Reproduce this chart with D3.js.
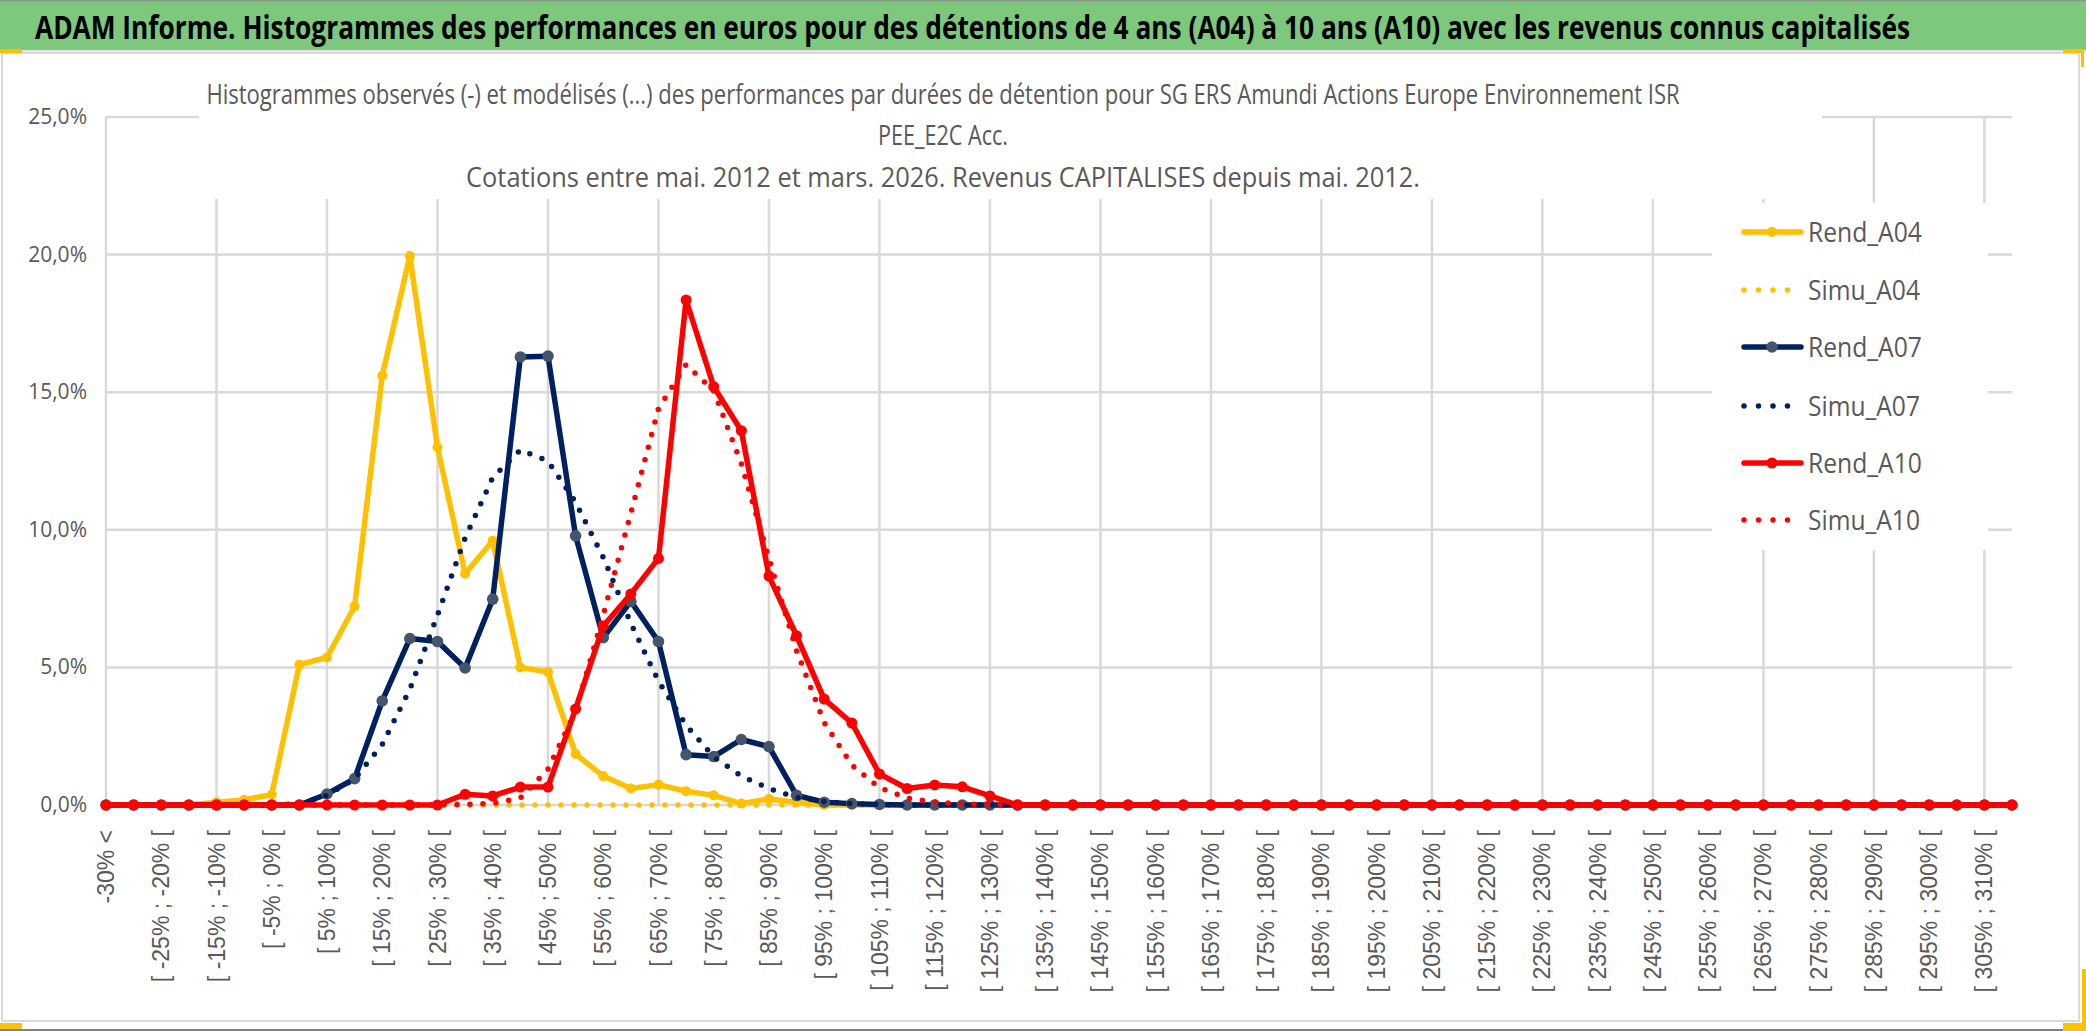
<!DOCTYPE html>
<html>
<head>
<meta charset="utf-8">
<script src="https://cdn.jsdelivr.net/npm/d3@7"></script>
<style>
  body { margin: 0; background: #fff; }
  svg { display: block; }
</style>
</head>
<body>
<div id="chart"></div>
<script>
// categories (classes de performance), one label every 2 shown
var categories = [
  "-30% <", "[ -30% ; -25% [", "[ -25% ; -20% [", "[ -20% ; -15% [", "[ -15% ; -10% [", "[ -10% ; -5% [", "[ -5% ; 0% [", "[ 0% ; 5% [", "[ 5% ; 10% [", "[ 10% ; 15% [",
  "[ 15% ; 20% [", "[ 20% ; 25% [", "[ 25% ; 30% [", "[ 30% ; 35% [", "[ 35% ; 40% [", "[ 40% ; 45% [", "[ 45% ; 50% [", "[ 50% ; 55% [", "[ 55% ; 60% [", "[ 60% ; 65% [",
  "[ 65% ; 70% [", "[ 70% ; 75% [", "[ 75% ; 80% [", "[ 80% ; 85% [", "[ 85% ; 90% [", "[ 90% ; 95% [", "[ 95% ; 100% [", "[ 100% ; 105% [", "[ 105% ; 110% [", "[ 110% ; 115% [",
  "[ 115% ; 120% [", "[ 120% ; 125% [", "[ 125% ; 130% [", "[ 130% ; 135% [", "[ 135% ; 140% [", "[ 140% ; 145% [", "[ 145% ; 150% [", "[ 150% ; 155% [", "[ 155% ; 160% [", "[ 160% ; 165% [",
  "[ 165% ; 170% [", "[ 170% ; 175% [", "[ 175% ; 180% [", "[ 180% ; 185% [", "[ 185% ; 190% [", "[ 190% ; 195% [", "[ 195% ; 200% [", "[ 200% ; 205% [", "[ 205% ; 210% [", "[ 210% ; 215% [",
  "[ 215% ; 220% [", "[ 220% ; 225% [", "[ 225% ; 230% [", "[ 230% ; 235% [", "[ 235% ; 240% [", "[ 240% ; 245% [", "[ 245% ; 250% [", "[ 250% ; 255% [", "[ 255% ; 260% [", "[ 260% ; 265% [",
  "[ 265% ; 270% [", "[ 270% ; 275% [", "[ 275% ; 280% [", "[ 280% ; 285% [", "[ 285% ; 290% [", "[ 290% ; 295% [", "[ 295% ; 300% [", "[ 300% ; 305% [", "[ 305% ; 310% [", "[ 310% ; 315% ["
];

// frequencies in %
var rendA04 = [
  0, 0, 0, 0, 0.1, 0.18, 0.38, 5.1, 5.36, 7.22,
  15.6, 19.95, 13.0, 8.4, 9.6, 5.0, 4.83, 1.85, 1.05, 0.6,
  0.74, 0.5, 0.35, 0.05, 0.22, 0.1, 0, 0, 0, 0,
  0, 0, 0, 0, 0, 0, 0, 0, 0, 0,
  0, 0, 0, 0, 0, 0, 0, 0, 0, 0,
  0, 0, 0, 0, 0, 0, 0, 0, 0, 0,
  0, 0, 0, 0, 0, 0, 0, 0, 0, 0
];
var simuA04 = [
  0, 0, 0, 0, 0, 0, 0, 0, 0, 0,
  0, 0, 0, 0, 0, 0, 0, 0, 0, 0,
  0, 0, 0, 0, 0, 0, 0, 0, 0, 0,
  0, 0, 0, 0, 0, 0, 0, 0, 0, 0,
  0, 0, 0, 0, 0, 0, 0, 0, 0, 0,
  0, 0, 0, 0, 0, 0, 0, 0, 0, 0,
  0, 0, 0, 0, 0, 0, 0, 0, 0, 0
];
var rendA07 = [
  0, 0, 0, 0, 0, 0, 0, 0, 0.4, 0.96,
  3.78, 6.05, 5.94, 4.98, 7.48, 16.28, 16.31, 9.78, 6.08, 7.4,
  5.94, 1.83, 1.76, 2.38, 2.12, 0.35, 0.1, 0.05, 0.02, 0,
  0, 0, 0, 0, 0, 0, 0, 0, 0, 0,
  0, 0, 0, 0, 0, 0, 0, 0, 0, 0,
  0, 0, 0, 0, 0, 0, 0, 0, 0, 0,
  0, 0, 0, 0, 0, 0, 0, 0, 0, 0
];
var simuA07 = [
  0, 0, 0, 0, 0, 0, 0, 0.05, 0.35, 0.95,
  2.2, 4.2, 6.9, 9.7, 11.9, 12.9, 12.5, 11.0, 9.0, 6.6,
  4.5, 2.9, 1.75, 1.05, 0.6, 0.27, 0.13, 0.05, 0.02, 0,
  0, 0, 0, 0, 0, 0, 0, 0, 0, 0,
  0, 0, 0, 0, 0, 0, 0, 0, 0, 0,
  0, 0, 0, 0, 0, 0, 0, 0, 0, 0,
  0, 0, 0, 0, 0, 0, 0, 0, 0, 0
];
var rendA10 = [
  0, 0, 0, 0, 0, 0, 0, 0, 0, 0,
  0, 0, 0, 0.39, 0.33, 0.65, 0.65, 3.49, 6.5, 7.67,
  8.96, 18.35, 15.2, 13.6, 8.32, 6.15, 3.85, 2.98, 1.13, 0.6,
  0.73, 0.66, 0.33, 0, 0, 0, 0, 0, 0, 0,
  0, 0, 0, 0, 0, 0, 0, 0, 0, 0,
  0, 0, 0, 0, 0, 0, 0, 0, 0, 0,
  0, 0, 0, 0, 0, 0, 0, 0, 0, 0
];
var simuA10 = [
  0, 0, 0, 0, 0, 0, 0, 0, 0, 0,
  0, 0, 0, 0.02, 0.06, 0.25, 1.3, 3.4, 6.9, 10.6,
  14.4, 16.0, 15.05, 12.4, 8.95, 5.6, 3.0, 1.45, 0.63, 0.25,
  0.11, 0.04, 0.02, 0, 0, 0, 0, 0, 0, 0,
  0, 0, 0, 0, 0, 0, 0, 0, 0, 0,
  0, 0, 0, 0, 0, 0, 0, 0, 0, 0,
  0, 0, 0, 0, 0, 0, 0, 0, 0, 0
];

var yTicks = [0, 5, 10, 15, 20, 25];
var yTickLabels = ["0,0%", "5,0%", "10,0%", "15,0%", "20,0%", "25,0%"];

var seriesNames = ["Rend_A04", "Simu_A04", "Rend_A07", "Simu_A07", "Rend_A10", "Simu_A10"];
var seriesValues = [rendA04, simuA04, rendA07, simuA07, rendA10, simuA10];

var mainTitle = "ADAM Informe. Histogrammes des performances en euros pour des détentions de 4 ans (A04) à 10 ans (A10) avec les revenus connus capitalisés";
var subTitle = [
  "Histogrammes observés (-) et modélisés (...) des performances par durées de détention pour SG ERS Amundi Actions Europe Environnement ISR",
  "PEE_E2C Acc.",
  "Cotations entre mai. 2012 et mars. 2026. Revenus CAPITALISES depuis mai. 2012."
];

// styles per series
var styles = [
  {color: "#FFC000", dotted: false, marker: "#FFC000", r: 5},
  {color: "#FFC000", dotted: true},
  {color: "#002060", dotted: false, marker: "#44546A", r: 5.8},
  {color: "#002060", dotted: true},
  {color: "#FF0000", dotted: false, marker: "#FF0000", r: 5.5},
  {color: "#FF0000", dotted: true}
];

var W = 2086, H = 1031;
var narrow = "'Open Sans', sans-serif";
var grey = "#595959";

var svg = d3.select("#chart").append("svg")
  .attr("width", W)
  .attr("height", H);

svg.append("rect").attr("width", W).attr("height", H).attr("fill", "#fff");

// squeeze a text horizontally (Calibri look) so it spans the wanted width
function squeezed(parent, str, px, py, size, weight, color, width, anchor) {
  var t = parent.append("text")
    .attr("font-family", narrow)
    .attr("font-size", size)
    .attr("font-weight", weight)
    .attr("fill", color)
    .attr("text-anchor", anchor)
    .text(str);
  var natural = t.node().getComputedTextLength();
  var sx = width / natural;
  t.attr("transform", "translate(" + px + "," + py + ") scale(" + sx + ",1)");
  return t;
}

// green title band
svg.append("rect").attr("x", 0).attr("y", 0).attr("width", W).attr("height", 50).attr("fill", "#7DC87D");
svg.append("rect").attr("x", 0).attr("y", 0).attr("width", W).attr("height", 1.5).attr("fill", "#8a9a8a");
svg.append("rect").attr("x", 0).attr("y", 50).attr("width", W).attr("height", 3).attr("fill", "#e4e4e4");
squeezed(svg, mainTitle, 35, 39, 33, "bold", "#000", 1876, "start");

// chart area border + yellow corners
svg.append("rect").attr("x", 2).attr("y", 53).attr("width", 2077).attr("height", 968)
  .attr("fill", "none").attr("stroke", "#d9d9d9").attr("stroke-width", 2);
svg.append("rect").attr("x", 0).attr("y", 1029).attr("width", W).attr("height", 2).attr("fill", "#808080");
svg.append("rect").attr("x", 0).attr("y", 49).attr("width", 22).attr("height", 4).attr("fill", "#FFC000");
svg.append("rect").attr("x", 2063).attr("y", 49).attr("width", 21).attr("height", 4).attr("fill", "#FFC000");
svg.append("rect").attr("x", 2081).attr("y", 49).attr("width", 3).attr("height", 18).attr("fill", "#FFC000");
svg.append("rect").attr("x", 0).attr("y", 1023).attr("width", 22).attr("height", 6).attr("fill", "#FFC000");
svg.append("rect").attr("x", 2082).attr("y", 969).attr("width", 4).attr("height", 62).attr("fill", "#FFC000");
svg.append("rect").attr("x", 2063).attr("y", 1023).attr("width", 23).attr("height", 8).attr("fill", "#FFC000");

// scales
var x = d3.scalePoint().domain(categories).range([106, 2012]);
var y = d3.scaleLinear().domain([0, 25]).range([805, 117]);

// gridlines
var grid = svg.append("g").attr("stroke", "#d9d9d9").attr("stroke-width", 2.5);
grid.selectAll("line.h").data(yTicks).enter().append("line")
  .attr("x1", x(categories[0])).attr("x2", x(categories[categories.length - 1]))
  .attr("y1", function(d) { return y(d); }).attr("y2", function(d) { return y(d); });
grid.selectAll("line.v").data(categories.filter(function(d, i) { return i % 4 === 0; })).enter().append("line")
  .attr("x1", function(d) { return x(d); }).attr("x2", function(d) { return x(d); })
  .attr("y1", y(25)).attr("y2", y(0));

// white boxes of subtitle and legend cover the grid
svg.append("rect").attr("x", 199).attr("y", 62).attr("width", 1623).attr("height", 137).attr("fill", "#fff");
svg.append("rect").attr("x", 1712).attr("y", 203).attr("width", 276).attr("height", 347).attr("fill", "#fff");

// subtitle
var subY = [104, 145, 187];
var subW = [1474, 130, 954];
subTitle.forEach(function(t, i) {
  squeezed(svg, t, 943, subY[i], 28, "normal", grey, subW[i], "middle");
});

// y axis labels
svg.append("g").selectAll("text").data(yTicks).enter().append("text")
  .attr("x", 87)
  .attr("y", function(d) { return y(d) + 7; })
  .attr("text-anchor", "end")
  .attr("font-family", narrow)
  .attr("font-size", 21)
  .attr("fill", grey)
  .text(function(d, i) { return yTickLabels[i]; });

// x axis labels, one every 2 categories
svg.append("g").selectAll("text").data(categories.filter(function(d, i) { return i % 2 === 0; })).enter().append("text")
  .attr("transform", function(d) { return "translate(" + x(d) + ",830) rotate(-90)"; })
  .attr("dy", "0.35em")
  .attr("text-anchor", "end")
  .attr("font-family", "'Liberation Sans', Arial, sans-serif")
  .attr("font-size", 23)
  .attr("fill", grey)
  .text(function(d) { return d; });

// series
var line = d3.line()
  .x(function(d, i) { return x(categories[i]); })
  .y(function(d) { return y(d); });

seriesValues.forEach(function(vals, s) {
  var st = styles[s];
  var g = svg.append("g");
  g.append("path")
    .attr("d", line(vals))
    .attr("fill", "none")
    .attr("stroke", st.color)
    .attr("stroke-width", 5.5)
    .attr("stroke-linejoin", "round")
    .attr("stroke-linecap", "round")
    .attr("stroke-dasharray", st.dotted ? "0 13" : null);
  if (!st.dotted) {
    g.selectAll("circle").data(vals).enter().append("circle")
      .attr("cx", function(d, i) { return x(categories[i]); })
      .attr("cy", function(d) { return y(d); })
      .attr("r", st.r)
      .attr("fill", st.marker);
  }
});

// legend
var legY = [232, 290, 347, 406, 463, 520];
var legW = [114, 112, 114, 112, 114, 112];
seriesNames.forEach(function(name, s) {
  var st = styles[s];
  var g = svg.append("g").attr("transform", "translate(0," + legY[s] + ")");
  g.append("line")
    .attr("x1", 1744).attr("x2", 1801)
    .attr("stroke", st.color)
    .attr("stroke-width", 5.5)
    .attr("stroke-linecap", "round")
    .attr("stroke-dasharray", st.dotted ? "0 14.5" : null);
  if (!st.dotted) {
    g.append("circle").attr("cx", 1772).attr("r", st.r).attr("fill", st.marker);
  }
  squeezed(g, name, 1808, 10, 28, "normal", grey, legW[s], "start");
});
</script>
</body>
</html>
